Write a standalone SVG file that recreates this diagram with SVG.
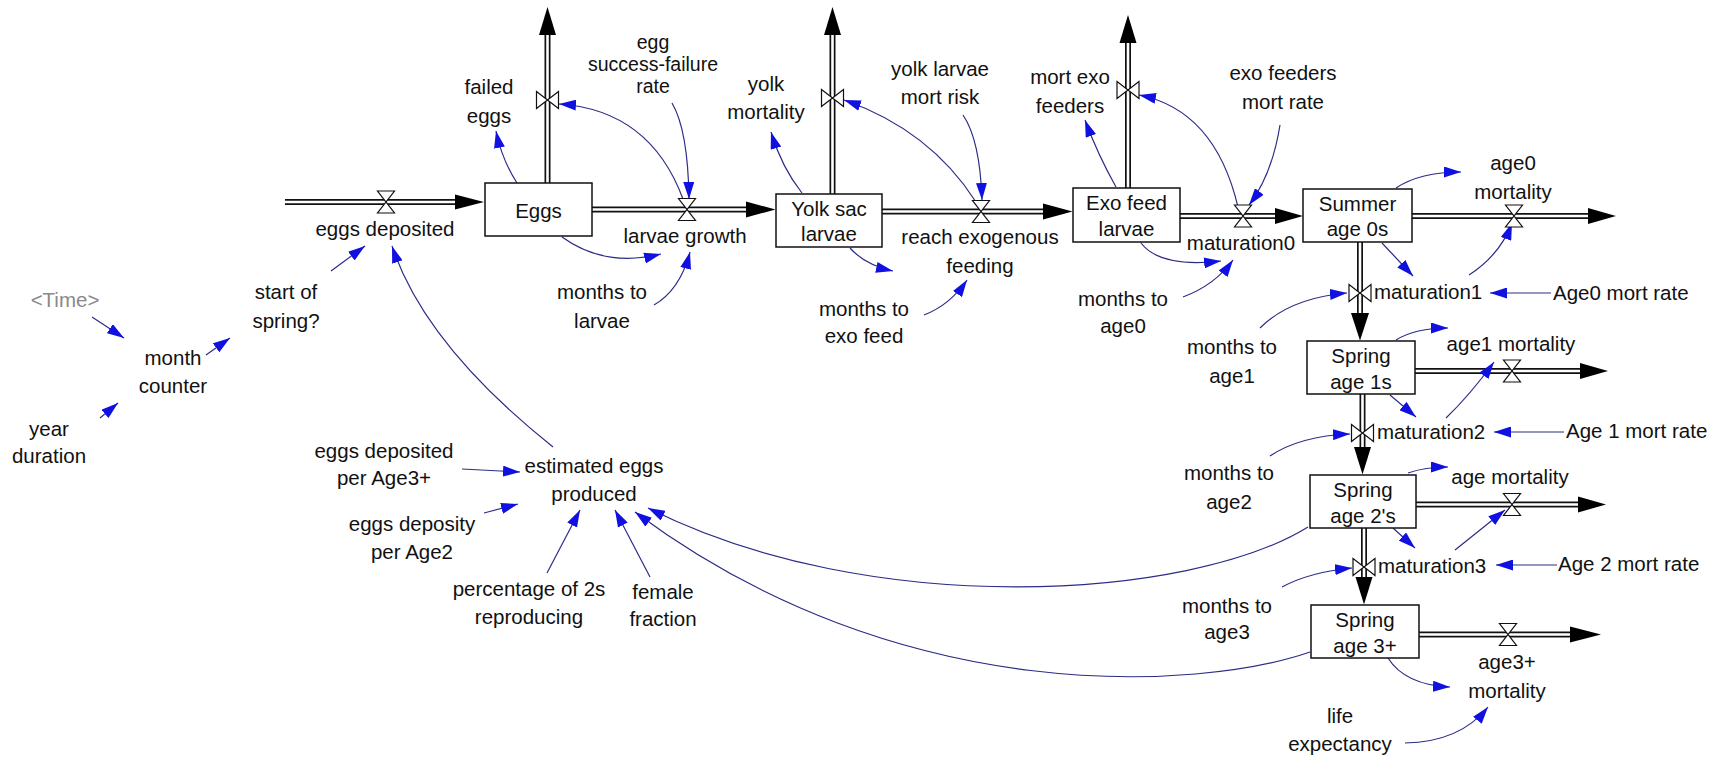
<svg xmlns="http://www.w3.org/2000/svg" width="1727" height="760" viewBox="0 0 1727 760">
<defs>
<marker id="ah" viewBox="0 0 17 11" refX="17" refY="5.5" markerWidth="17" markerHeight="11" markerUnits="userSpaceOnUse" orient="auto">
<path d="M0,0 L17,5.5 L0,11 Z" fill="#1010e0"/>
</marker>
<path id="hg" d="M-8.5,-11 H8.5 L-8.5,11 H8.5 Z"/>
<path id="bt" d="M-11,-8.5 V8.5 L11,-8.5 V8.5 Z"/>
<style>
text{font-family:"Liberation Sans",Arial,sans-serif;font-size:20.5px;fill:#111;text-anchor:middle}
.l{text-anchor:start}
.s{font-size:19.5px}
.g{fill:#8a8a8a}
.stock{fill:#fff;stroke:#111;stroke-width:1.5}
.po{fill:none;stroke:#111;stroke-width:6}
.pi{fill:none;stroke:#fff;stroke-width:2.6}
.head{fill:#000}
.valve{fill:#fff;stroke:#111;stroke-width:1.2}
.lk{fill:none;stroke:#2c2c86;stroke-width:1.2;marker-end:url(#ah)}
</style>
</defs>
<rect width="1727" height="760" fill="#fff"/>

<g id="pipes">
<path class="po" d="M285,202 H457"/><path class="pi" d="M285,202 H457"/>
<polygon class="head" points="455,194.5 484,202 455,209.5"/>
<path class="po" d="M547.5,183 V33"/><path class="pi" d="M547.5,183 V33"/>
<polygon class="head" points="539,35 547.5,7 556,35"/>
<path class="po" d="M592,209.5 H748"/><path class="pi" d="M592,209.5 H748"/>
<polygon class="head" points="746,201.5 775.5,209.5 746,217.5"/>
<path class="po" d="M832.5,194 V33"/><path class="pi" d="M832.5,194 V33"/>
<polygon class="head" points="824,35 832.5,7 841,35"/>
<path class="po" d="M882,211.5 H1045"/><path class="pi" d="M882,211.5 H1045"/>
<polygon class="head" points="1043,203.5 1072.5,211.5 1043,219.5"/>
<path class="po" d="M1128,188 V41"/><path class="pi" d="M1128,188 V41"/>
<polygon class="head" points="1119.5,43 1128,15 1136.5,43"/>
<path class="po" d="M1180,216 H1277"/><path class="pi" d="M1180,216 H1277"/>
<polygon class="head" points="1275,208 1303,216 1275,224"/>
<path class="po" d="M1412,216 H1590"/><path class="pi" d="M1412,216 H1590"/>
<polygon class="head" points="1588,208 1616,216 1588,224"/>
<path class="po" d="M1360,242 V315"/><path class="pi" d="M1360,242 V315"/>
<polygon class="head" points="1351,313 1360,340.5 1369,313"/>
<path class="po" d="M1415,371 H1582"/><path class="pi" d="M1415,371 H1582"/>
<polygon class="head" points="1580,363 1608,371 1580,379"/>
<path class="po" d="M1362.5,394 V449"/><path class="pi" d="M1362.5,394 V449"/>
<polygon class="head" points="1354,447 1362.5,474.5 1371,447"/>
<path class="po" d="M1416,504.5 H1580"/><path class="pi" d="M1416,504.5 H1580"/>
<polygon class="head" points="1578,496.5 1606,504.5 1578,512.5"/>
<path class="po" d="M1364,528 V579"/><path class="pi" d="M1364,528 V579"/>
<polygon class="head" points="1355.5,577 1364,604.5 1372.5,577"/>
<path class="po" d="M1419,634.5 H1572"/><path class="pi" d="M1419,634.5 H1572"/>
<polygon class="head" points="1570,626.5 1601,634.5 1570,642.5"/>
</g>

<g id="connectors">
<path class="lk" d="M331,271 L365,246"/>
<path class="lk" d="M553,447 Q425,345 392,246"/>
<path class="lk" d="M92,317 L124,338"/>
<path class="lk" d="M206,355 L230,338"/>
<path class="lk" d="M100,418 L118,403"/>
<path class="lk" d="M462,469 L520,472"/>
<path class="lk" d="M484,513 L518,504"/>
<path class="lk" d="M547,573 L580,510"/>
<path class="lk" d="M650,577 L615,510"/>
<path class="lk" d="M1308,527 C1190,600 870,620 648,508"/>
<path class="lk" d="M1310,652 C1200,690 900,710 635,512"/>
<path class="lk" d="M517,183 Q502,160 496,131"/>
<path class="lk" d="M683,199 Q650,110 559,104"/>
<path class="lk" d="M672,103 Q688,130 689,199"/>
<path class="lk" d="M562,237 Q605,268 661,254"/>
<path class="lk" d="M654,305 Q680,290 690,252"/>
<path class="lk" d="M802,193 Q782,168 771,132"/>
<path class="lk" d="M976,202 Q930,130 844,100"/>
<path class="lk" d="M963,115 Q980,140 982,200"/>
<path class="lk" d="M850,248 Q865,265 893,271"/>
<path class="lk" d="M924,315 Q950,305 967,280"/>
<path class="lk" d="M1116,187 Q1098,155 1085,120"/>
<path class="lk" d="M1238,207 Q1215,110 1139,95"/>
<path class="lk" d="M1280,125 Q1272,175 1249,205"/>
<path class="lk" d="M1141,243 Q1160,268 1221,261"/>
<path class="lk" d="M1183,297 Q1215,285 1233,260"/>
<path class="lk" d="M1396,188 Q1420,172 1461,172"/>
<path class="lk" d="M1382,243 L1413,276"/>
<path class="lk" d="M1469,275 Q1500,255 1512,223"/>
<path class="lk" d="M1551,293 L1490,293"/>
<path class="lk" d="M1260,328 Q1290,298 1347,293"/>
<path class="lk" d="M1396,340 Q1415,328 1448,328"/>
<path class="lk" d="M1446,418 Q1470,395 1494,362"/>
<path class="lk" d="M1390,395 L1416,417"/>
<path class="lk" d="M1564,432 L1494,432"/>
<path class="lk" d="M1270,456 Q1300,436 1350,434"/>
<path class="lk" d="M1408,473 Q1425,467 1448,467"/>
<path class="lk" d="M1393,528 L1415,548"/>
<path class="lk" d="M1455,550 L1505,510"/>
<path class="lk" d="M1557,565 L1496,565"/>
<path class="lk" d="M1282,587 Q1310,572 1352,568"/>
<path class="lk" d="M1388,658 Q1405,685 1450,687"/>
<path class="lk" d="M1405,743 Q1460,742 1488,707"/>
</g>

<g id="eggs"><rect class="stock" x="485" y="183" width="107" height="53"/><text x="538.5" y="218">Eggs</text></g>
<g id="yolk-sac-larvae"><rect class="stock" x="776" y="194" width="106" height="53"/><text x="829" y="216">Yolk sac</text><text x="829" y="241">larvae</text></g>
<g id="exo-feed-larvae"><rect class="stock" x="1073" y="188" width="107" height="54"/><text x="1126.5" y="210">Exo feed</text><text x="1126.5" y="236">larvae</text></g>
<g id="summer-age-0s"><rect class="stock" x="1303" y="189" width="109" height="53"/><text x="1357.5" y="211">Summer</text><text x="1357.5" y="236">age 0s</text></g>
<g id="spring-age-1s"><rect class="stock" x="1307" y="341" width="108" height="53"/><text x="1361" y="363">Spring</text><text x="1361" y="389">age 1s</text></g>
<g id="spring-age-2s"><rect class="stock" x="1310" y="475" width="106" height="53"/><text x="1363" y="497">Spring</text><text x="1363" y="523">age 2's</text></g>
<g id="spring-age-3plus"><rect class="stock" x="1311" y="605" width="108" height="53"/><text x="1365" y="627">Spring</text><text x="1365" y="653">age 3+</text></g>

<g id="eggs-deposited"><use href="#hg" class="valve" transform="translate(386,202)"/><text x="385" y="236">eggs deposited</text></g>
<g id="failed-eggs"><use href="#bt" class="valve" transform="translate(547.5,100)"/><text x="489" y="94">failed</text><text x="489" y="123">eggs</text></g>
<g id="larvae-growth"><use href="#hg" class="valve" transform="translate(687,209.5)"/><text x="685" y="243">larvae growth</text></g>
<g id="yolk-mortality"><use href="#bt" class="valve" transform="translate(832.5,98)"/><text x="766" y="91">yolk</text><text x="766" y="119">mortality</text></g>
<g id="reach-exogenous-feeding"><use href="#hg" class="valve" transform="translate(981,211.5)"/><text x="980" y="244">reach exogenous</text><text x="980" y="273">feeding</text></g>
<g id="mort-exo-feeders"><use href="#bt" class="valve" transform="translate(1128,90)"/><text x="1070" y="84">mort exo</text><text x="1070" y="113">feeders</text></g>
<g id="maturation0"><use href="#hg" class="valve" transform="translate(1243,216)"/><text x="1241" y="250">maturation0</text></g>
<g id="age0-mortality"><use href="#hg" class="valve" transform="translate(1514,216)"/><text x="1513" y="170">age0</text><text x="1513" y="199">mortality</text></g>
<g id="maturation1"><use href="#bt" class="valve" transform="translate(1360,293)"/><text class="l" x="1374" y="299">maturation1</text></g>
<g id="age1-mortality"><use href="#hg" class="valve" transform="translate(1512,371)"/><text x="1511" y="351">age1 mortality</text></g>
<g id="maturation2"><use href="#bt" class="valve" transform="translate(1362.5,433)"/><text class="l" x="1377" y="439">maturation2</text></g>
<g id="age-mortality"><use href="#hg" class="valve" transform="translate(1512,504.5)"/><text x="1510" y="484">age mortality</text></g>
<g id="maturation3"><use href="#bt" class="valve" transform="translate(1364,567)"/><text class="l" x="1378" y="573">maturation3</text></g>
<g id="age3plus-mortality"><use href="#hg" class="valve" transform="translate(1508,634.5)"/><text x="1507" y="669">age3+</text><text x="1507" y="698">mortality</text></g>

<g id="egg-success-failure-rate"><text class="s" x="653" y="49">egg</text><text class="s" x="653" y="71">success-failure</text><text class="s" x="653" y="93">rate</text></g>
<g id="yolk-larvae-mort-risk"><text x="940" y="76">yolk larvae</text><text x="940" y="104">mort risk</text></g>
<g id="exo-feeders-mort-rate"><text x="1283" y="80">exo feeders</text><text x="1283" y="109">mort rate</text></g>
<g id="age0-mort-rate"><text class="l" x="1553" y="300">Age0 mort rate</text></g>
<g id="age1-mort-rate"><text class="l" x="1566" y="438">Age 1 mort rate</text></g>
<g id="age2-mort-rate"><text class="l" x="1558" y="571">Age 2 mort rate</text></g>
<g id="months-to-larvae"><text x="602" y="299">months to</text><text x="602" y="328">larvae</text></g>
<g id="months-to-exo-feed"><text x="864" y="316">months to</text><text x="864" y="343">exo feed</text></g>
<g id="months-to-age0"><text x="1123" y="306">months to</text><text x="1123" y="333">age0</text></g>
<g id="months-to-age1"><text x="1232" y="354">months to</text><text x="1232" y="383">age1</text></g>
<g id="months-to-age2"><text x="1229" y="480">months to</text><text x="1229" y="509">age2</text></g>
<g id="months-to-age3"><text x="1227" y="613">months to</text><text x="1227" y="639">age3</text></g>
<g id="life-expectancy"><text x="1340" y="723">life</text><text x="1340" y="751">expectancy</text></g>
<g id="time"><text class="g" x="65" y="307">&lt;Time&gt;</text></g>
<g id="month-counter"><text x="173" y="365">month</text><text x="173" y="393">counter</text></g>
<g id="start-of-spring"><text x="286" y="299">start of</text><text x="286" y="328">spring?</text></g>
<g id="year-duration"><text x="49" y="436">year</text><text x="49" y="463">duration</text></g>
<g id="eggs-deposited-per-age3"><text x="384" y="458">eggs deposited</text><text x="384" y="485">per Age3+</text></g>
<g id="estimated-eggs-produced"><text x="594" y="473">estimated eggs</text><text x="594" y="501">produced</text></g>
<g id="eggs-deposity-per-age2"><text x="412" y="531">eggs deposity</text><text x="412" y="559">per Age2</text></g>
<g id="percentage-of-2s-reproducing"><text x="529" y="596">percentage of 2s</text><text x="529" y="624">reproducing</text></g>
<g id="female-fraction"><text x="663" y="599">female</text><text x="663" y="626">fraction</text></g>
</svg>
